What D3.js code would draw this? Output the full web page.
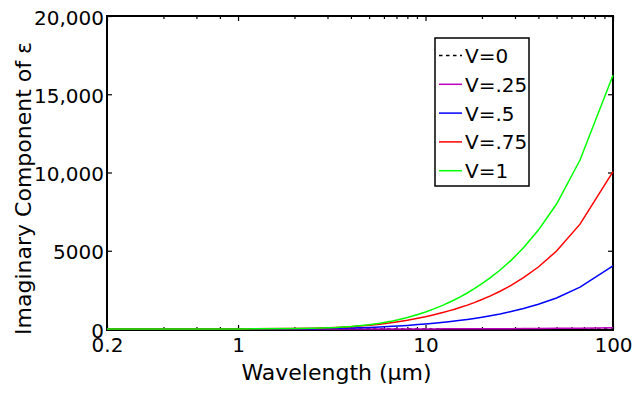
<!DOCTYPE html>
<html>
<head>
<meta charset="utf-8">
<script src="https://cdn.jsdelivr.net/npm/d3@7"></script>
<style>
  html, body { margin: 0; padding: 0; background: #fff; }
  svg { display: block; font-family: "DejaVu Sans", sans-serif; }
</style>
</head>
<body>
<svg id="chart" width="633" height="394"></svg>
<script>
// Wavelength samples (µm)
const wavelength = [0.2, 0.5, 1, 2, 2.5, 3.33, 4, 4.44, 5, 5.71, 6.67, 7.14, 8, 9.09, 10,
  11.1, 12.5, 13.3, 14.3, 15.4, 16.7, 18.2, 20, 22.2, 25, 28.6, 33.3, 40, 50, 66.7, 100];

// Imaginary part of epsilon for each applied V
const epsV0   = [0, 0, 0, 0, 0, 0, 0, 0, 0, 0, 0, 0, 0, 0, 0,
  0, 0, 0, 0, 0, 0, 0, 0, 0, 0, 0, 0, 0, 0, 0, 0];
const epsV025 = [0, 0, 0, 0.2, 0.4, 0.8, 1.3, 1.6, 2, 2.6, 3.4, 3.8, 4.6, 5.6, 6.4,
  7.4, 8.6, 9.4, 10, 11, 12, 14, 15, 17, 19, 22, 26, 32, 40, 54, 81];
const epsV05  = [0, 0.1, 2, 11, 20, 41, 63, 79, 100, 130, 171, 192, 231, 280, 321,
  371, 432, 469, 510, 558, 613, 678, 755, 848, 964, 1112, 1307, 1579, 1985, 2680, 4030];
const epsV075 = [0, 0.5, 3, 25, 46, 95, 146, 184, 236, 308, 410, 463, 559, 682, 785,
  911, 1067, 1159, 1264, 1385, 1524, 1688, 1883, 2118, 2411, 2783, 3276, 3962, 4983, 6700, 10050];
const epsV1   = [0, 0.4, 3, 24, 45, 99, 158, 205, 271, 368, 511, 588, 732, 923, 1086,
  1288, 1543, 1695, 1869, 2069, 2301, 2573, 2896, 3287, 3771, 4386, 5196, 6319, 7986, 10800, 16210];

const seriesNames  = ["V=0", "V=.25", "V=.5", "V=.75", "V=1"];
const seriesValues = [epsV0, epsV025, epsV05, epsV075, epsV1];
const seriesColors = ["#000000", "#bf00bf", "#0000ff", "#ff0000", "#00ff00"];
const seriesDash   = ["3.5,3.5", null, null, null, null];

// Axis ticks
const xMajorTicks = [0.2, 1, 10, 100];
const xMinorTicks = [0.4, 0.6, 0.8, 2, 3, 4, 5, 6, 7, 8, 9, 20, 30, 40, 50, 60, 70, 80, 90];
const yTicks = [0, 5000, 10000, 15000, 20000];

const svg = d3.select("#chart");
const plotL = 107, plotR = 613, plotT = 16, plotB = 330;

const x = d3.scaleLog().domain([0.2, 100]).range([plotL, plotR]);
const y = d3.scaleLinear().domain([0, 20000]).range([329, plotT]);

svg.append("rect").attr("width", 633).attr("height", 394).attr("fill", "#fff");

// Axes box
svg.append("rect")
  .attr("x", plotL).attr("y", plotT)
  .attr("width", plotR - plotL).attr("height", plotB - plotT)
  .attr("fill", "none").attr("stroke", "#000").attr("stroke-width", 2);

const yFmt = d => d >= 10000 ? d3.format(",")(d) : String(d);

function styleAxis(g) {
  g.select(".domain").remove();
  g.selectAll(".tick line").attr("stroke", "#000").attr("stroke-width", 1.2);
  g.selectAll(".tick text").attr("fill", "#000").attr("font-size", 20)
    .attr("font-family", "DejaVu Sans, sans-serif");
}

// Bottom axis with labels
svg.append("g").attr("transform", `translate(0,${plotB})`)
  .call(d3.axisBottom(x).tickValues(xMajorTicks).tickFormat(d => String(d))
    .tickSize(-5).tickPadding(8))
  .call(styleAxis);
svg.append("g").attr("transform", `translate(0,${plotB})`)
  .call(d3.axisBottom(x).tickValues(xMinorTicks).tickFormat("").tickSize(-3))
  .call(styleAxis);
// Top axis (ticks only)
svg.append("g").attr("transform", `translate(0,${plotT})`)
  .call(d3.axisTop(x).tickValues(xMajorTicks).tickFormat("").tickSize(-5))
  .call(styleAxis);
svg.append("g").attr("transform", `translate(0,${plotT})`)
  .call(d3.axisTop(x).tickValues(xMinorTicks).tickFormat("").tickSize(-3))
  .call(styleAxis);
// Left axis with labels
svg.append("g").attr("transform", `translate(${plotL},0)`)
  .call(d3.axisLeft(y).tickValues(yTicks).tickFormat(yFmt).tickSize(-5).tickPadding(3))
  .call(styleAxis)
  .call(g => g.selectAll(".tick text").attr("dy", "0.4em"));
// Right axis (ticks only)
svg.append("g").attr("transform", `translate(${plotR},0)`)
  .call(d3.axisRight(y).tickValues(yTicks).tickFormat("").tickSize(-5))
  .call(styleAxis);

// Curves
const line = d3.line().x(d => x(d[0])).y(d => y(d[1]));
seriesValues.forEach((vals, i) => {
  svg.append("path")
    .datum(wavelength.map((w, j) => [w, vals[j]]))
    .attr("d", line)
    .attr("fill", "none")
    .attr("stroke", seriesColors[i])
    .attr("stroke-width", 1.5)
    .attr("stroke-dasharray", seriesDash[i]);
});

// Axis titles
svg.append("text")
  .attr("x", 336.5).attr("y", 380)
  .attr("text-anchor", "middle").attr("font-size", 22)
  .text("Wavelength (\u03bcm)");
svg.append("text")
  .attr("transform", "translate(31,188.5) rotate(-90)")
  .attr("text-anchor", "middle").attr("font-size", 22)
  .text("Imaginary Component of \u03b5");

// Legend
const legend = svg.append("g");
legend.append("rect")
  .attr("x", 435).attr("y", 38).attr("width", 94).attr("height", 148)
  .attr("fill", "#fff").attr("stroke", "#000").attr("stroke-width", 1.5);
seriesNames.forEach((name, i) => {
  const cy = 55.5 + i * 28.8;
  legend.append("line")
    .attr("x1", 439).attr("x2", 462).attr("y1", cy).attr("y2", cy)
    .attr("stroke", seriesColors[i]).attr("stroke-width", 1.5)
    .attr("stroke-dasharray", seriesDash[i]);
  legend.append("text")
    .attr("x", 465).attr("y", cy + 7.5)
    .attr("font-size", 20)
    .text(name);
});
</script>
</body>
</html>
